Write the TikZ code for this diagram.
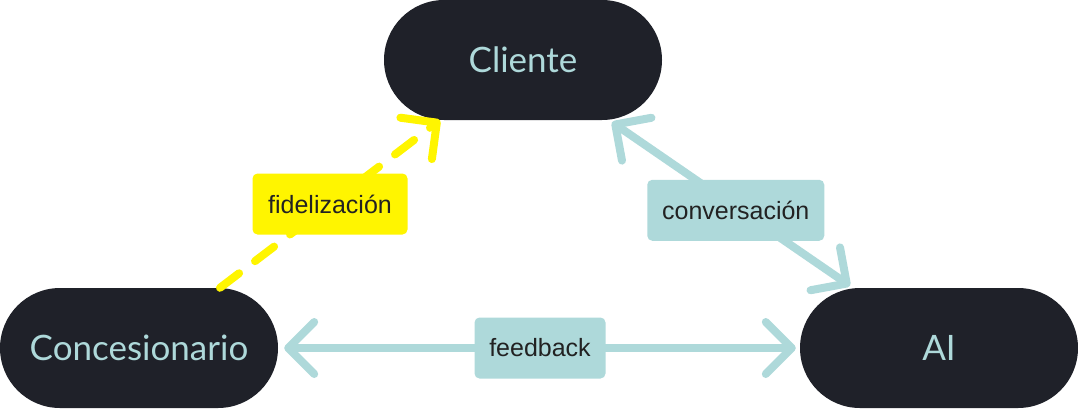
\documentclass[tikz,border=0pt]{standalone}
\usepackage{fontspec}
\setmainfont{Liberation Sans}
\newfontfamily\bigfont{Lato}
\usetikzlibrary{arrows.meta,calc}
\definecolor{darkbg}{HTML}{1F2129}
\definecolor{tealc}{HTML}{AED9DA}
\definecolor{yellowc}{HTML}{FFF500}
\definecolor{txt}{HTML}{222222}
\tikzset{
  pill/.style={fill=darkbg, rounded corners=60pt, minimum width=278pt, minimum height=120pt, inner sep=0pt, text=tealc, font=\bigfont\fontsize{35}{40}\selectfont},
  tag/.style={rounded corners=5pt, inner sep=0pt, minimum height=61pt, text=txt, font=\fontsize{25}{28}\selectfont},
  barb/.tip={Straight Barb[length=26pt, width=52pt, round]},
  conn/.style={line width=8pt, line cap=round}
}
\begin{document}
\begin{tikzpicture}[x=1pt,y=-1pt]
\useasboundingbox (0,0) rectangle (1078,408);
\node[pill] (cli) at (523,60) {Cliente};
\node[pill] (con) at (139,348) {Concesionario};
\node[pill] (ai) at (939,348) {AI};
\coordinate (y1) at ($(con.north)+(81,0)$);
\coordinate (y2) at ($(cli.south)+(-83,0)$);
\coordinate (t1) at ($(cli.south)+(89,2)$);
\coordinate (t2) at ($(ai.north)+(-89,-2)$);
\coordinate (f1) at ($(con.east)+(6,0)$);
\coordinate (f2) at ($(ai.west)+(-4,0)$);
\draw[conn, yellowc, dash pattern=on 24pt off 20pt, -barb] (y1) -- (y2)
  node[midway, tag, fill=yellowc, minimum width=155pt] (lf) {fidelización};
\draw[conn, tealc, barb-barb] (t1) -- (t2)
  node[pos=0.52, tag, fill=tealc, minimum width=177pt, yshift=-3pt] (lc) {conversación};
\draw[conn, tealc, barb-barb] (f1) -- (f2)
  node[midway, tag, fill=tealc, minimum width=131pt] (lb) {feedback};
\end{tikzpicture}
\end{document}
